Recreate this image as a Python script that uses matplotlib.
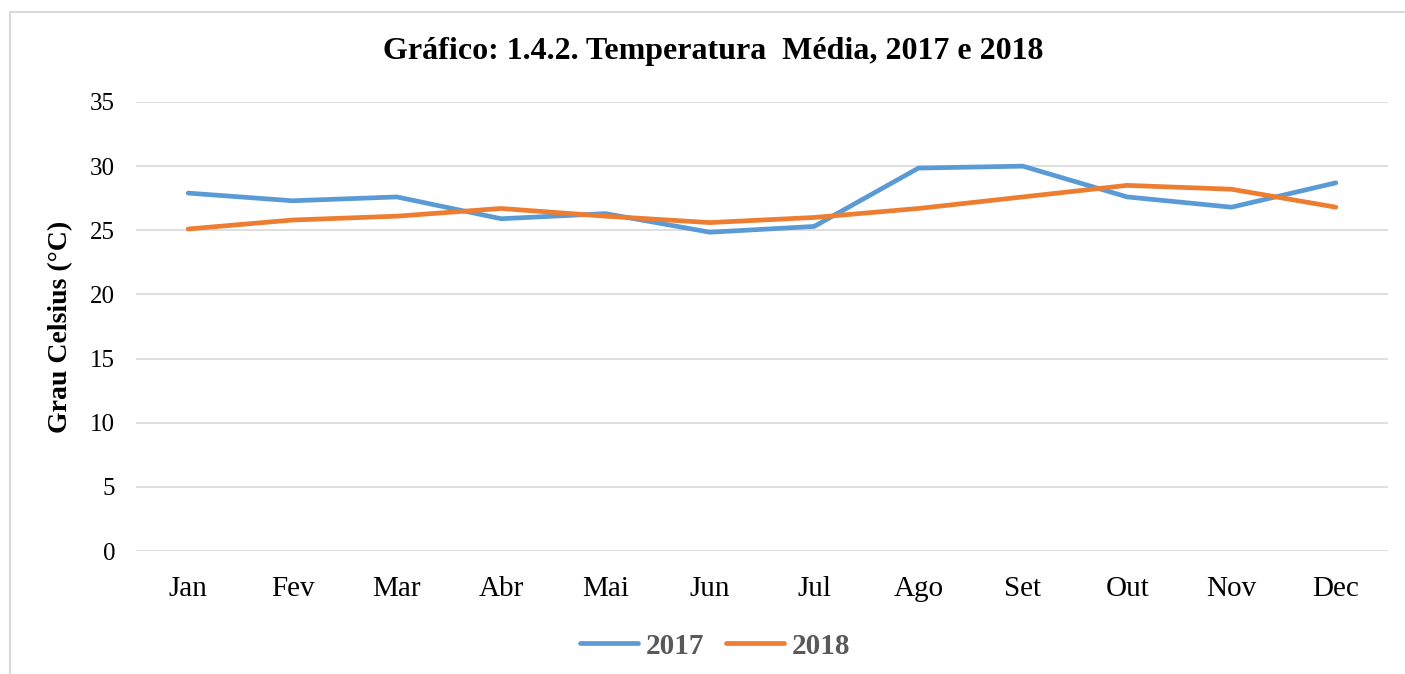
import matplotlib
matplotlib.use("Agg")
import matplotlib.pyplot as plt
from matplotlib.patches import Rectangle

meses = ["Jan", "Fev", "Mar", "Abr", "Mai", "Jun", "Jul", "Ago", "Set", "Out", "Nov", "Dec"]
temp_2017 = [27.9, 27.3, 27.6, 25.9, 26.3, 24.85, 25.3, 29.85, 30.0, 27.6, 26.8, 28.7]
temp_2018 = [25.1, 25.8, 26.1, 26.7, 26.1, 25.6, 26.0, 26.7, 27.6, 28.5, 28.2, 26.8]
y_ticks = [0, 5, 10, 15, 20, 25, 30, 35]

plt.rcParams['font.family'] = ['Liberation Serif', 'DejaVu Serif']

fig = plt.figure(figsize=(14.05, 6.74), dpi=100)
# moldura do grafico
fig.patches.append(Rectangle((10 / 1405, -0.01), 1.0, 1 - 12 / 674 + 0.01,
                             transform=fig.transFigure, fill=False,
                             edgecolor="#D9D9D9", linewidth=1.5))

ax = fig.add_axes([136 / 1405, 1 - 551 / 674, (1388 - 136) / 1405, (551 - 102) / 674])
x = range(len(meses))
ax.plot(x, temp_2017, color="#5B9BD5", linewidth=3.4, label="2017", solid_capstyle="round")
ax.plot(x, temp_2018, color="#ED7D31", linewidth=3.4, label="2018", solid_capstyle="round")

ax.set_xlim(-0.5, len(meses) - 0.5)
ax.set_ylim(0, 35)
ax.set_yticks(y_ticks)
ax.set_xticks(list(x))
ax.set_xticklabels(meses)
ax.tick_params(axis="x", labelsize=21, length=0, pad=18)
ax.tick_params(axis="y", labelsize=18, length=0, pad=15)
ax.grid(axis="y", color="#D9D9D9", linewidth=1.2)
ax.set_axisbelow(True)
for s in ax.spines.values():
    s.set_visible(False)

ax.set_ylabel("Grau Celsius (°C)", fontsize=20, fontweight="bold", labelpad=12)
fig.text(713 / 1405, 1 - 52 / 674, "Gráfico: 1.4.2. Temperatura  Média, 2017 e 2018",
         ha="center", va="center", fontsize=23, fontweight="bold")

leg = fig.legend(loc="center", bbox_to_anchor=(715 / 1405, 1 - 646 / 674), ncol=2,
                 frameon=False, handlelength=2.0, handletextpad=0.25, columnspacing=0.75,
                 prop={"size": 21, "weight": "bold"})
for t in leg.get_texts():
    t.set_color("#595959")

fig.savefig("out.png", dpi=100)
